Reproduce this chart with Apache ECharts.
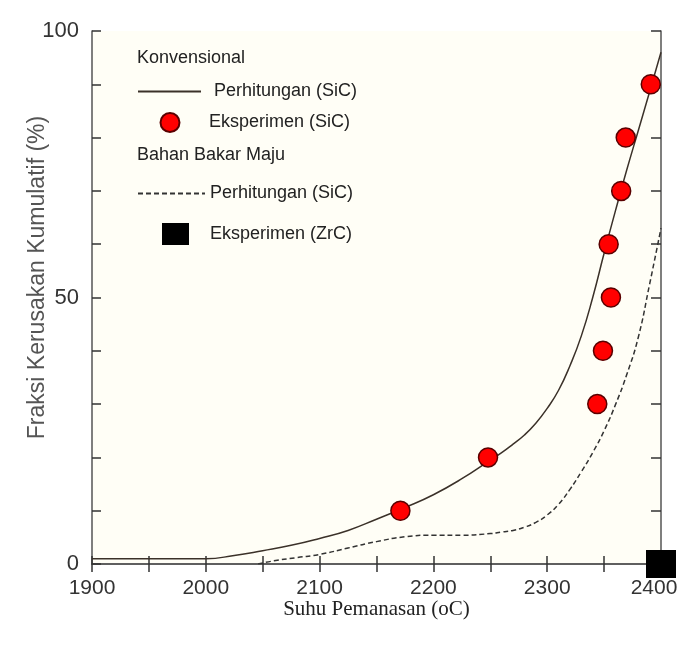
<!DOCTYPE html>
<html>
<head>
<meta charset="utf-8">
<script src="https://cdn.jsdelivr.net/npm/echarts@6/dist/echarts.min.js"></script>
<style>
html,body{margin:0;padding:0;background:#ffffff;}
#chart{width:681px;height:648px;}
</style>
</head>
<body>
<div id="chart"></div>
<script>
// ---- Data ----
// Konvensional: Perhitungan (SiC) — solid curve
const convCalcTemp = [1900, 1950, 2000, 2025, 2050, 2075, 2100, 2125, 2150, 2175, 2200, 2225, 2250, 2260, 2270, 2280, 2290, 2300, 2310, 2320, 2330, 2340, 2350, 2360, 2370, 2380, 2390, 2400];
const convCalcFrac = [1, 1, 1, 1.6, 2.5, 3.5, 4.8, 6.3, 8.4, 10.6, 13, 16, 19.5, 20.9, 22.5, 24.2, 26.4, 29.2, 32.6, 37.2, 42.8, 50, 58.3, 66.3, 74, 81.3, 88.6, 96];
// Konvensional: Eksperimen (SiC) — red circles
const expSiCTemp = [2171, 2248, 2344, 2349, 2356, 2354, 2365, 2369, 2391];
const expSiCFrac = [10, 20, 30, 40, 50, 60, 70, 80, 90];
// Bahan Bakar Maju: Perhitungan (SiC) — dashed curve
const advCalcTemp = [2046, 2060, 2080, 2100, 2125, 2150, 2175, 2200, 2225, 2250, 2260, 2270, 2280, 2290, 2300, 2310, 2320, 2330, 2340, 2350, 2360, 2370, 2380, 2390, 2400];
const advCalcFrac = [0, 0.6, 1.2, 1.8, 3, 4.2, 5.1, 5.4, 5.4, 5.7, 6, 6.3, 6.9, 7.8, 9.2, 11.2, 14, 17.3, 20.9, 25, 29.9, 35.6, 42.5, 52.5, 63];
// Bahan Bakar Maju: Eksperimen (ZrC) — black square
const expZrCTemp = [2400];
const expZrCFrac = [0];

// axis ticks / labels
const xMin = 1900, xMax = 2400, xTickStep = 50, xLabelStep = 100;
const yMin = 0, yMax = 100, yTickStep = 10, yLabelStep = 50;

// series / legend names
const nameConvCalc = 'Konvensional: Perhitungan (SiC)';
const nameExpSiC = 'Eksperimen (SiC)';
const nameAdvCalc = 'Bahan Bakar Maju: Perhitungan (SiC)';
const nameExpZrC = 'Eksperimen (ZrC)';
const legendLabels = {};
legendLabels[nameConvCalc] = 'Perhitungan (SiC)';
legendLabels[nameExpSiC] = 'Eksperimen (SiC)';
legendLabels[nameAdvCalc] = 'Perhitungan (SiC)';
legendLabels[nameExpZrC] = 'Eksperimen (ZrC)';

const zip = (a, b) => a.map((v, i) => [v, b[i]]);

const chart = echarts.init(document.getElementById('chart'), null, {renderer: 'canvas'});
const sans = 'Liberation Sans, Arial, sans-serif';
const legendText = {fontSize: 18, color: '#222', fontFamily: sans};

function legendAt(name, left, centerY, w, h, padLeft, extra) {
  return Object.assign({
    data: [name], left: left, top: centerY - Math.max(h, 21) / 2, padding: 0,
    itemWidth: w, itemHeight: h, selectedMode: false, orient: 'horizontal',
    formatter: n => legendLabels[n],
    textStyle: Object.assign({padding: [0, 0, 0, padLeft]}, legendText)
  }, extra || {});
}

const option = {
  backgroundColor: '#ffffff',
  animation: false,
  grid: {left: 92, right: 20, top: 31, bottom: 84, show: true, backgroundColor: '#fffef6', borderWidth: 0,
    outerBoundsMode: 'none', containLabel: false},
  legend: [
    legendAt(nameConvCalc, 137, 93, 63, 20, 8, {itemStyle: {opacity: 0}}),
    legendAt(nameExpSiC, 159.5, 122.5, 19, 19, 24.5),
    legendAt(nameAdvCalc, 137, 195, 67, 20, 0, {itemStyle: {opacity: 0}}),
    legendAt(nameExpZrC, 162, 234, 27, 22, 16)
  ],
  graphic: [
    {type: 'text', left: 137, top: 49, style: {text: 'Konvensional', fontSize: 18, fill: '#222', fontFamily: sans}},
    {type: 'text', left: 137, top: 146, style: {text: 'Bahan Bakar Maju', fontSize: 18, fill: '#222', fontFamily: sans}}
  ],
  xAxis: [{
    type: 'value', min: xMin, max: xMax, interval: xTickStep, position: 'bottom',
    name: 'Suhu Pemanasan (oC)', nameLocation: 'middle', nameGap: 35, nameMoveOverlap: false,
    nameTextStyle: {fontSize: 21, color: '#222', fontFamily: 'Liberation Serif, Times New Roman, serif'},
    axisLine: {show: true, lineStyle: {color: '#555', width: 1.5}},
    axisTick: {show: true, inside: true, length: 8, lineStyle: {color: '#333', width: 1.5}},
    axisLabel: {fontSize: 21, color: '#333', margin: 14, fontFamily: sans,
      formatter: v => (v % xLabelStep === 0 ? (v === xMax ? '{last|' + v + '}' : String(v)) : ''),
      rich: {last: {fontSize: 21, color: '#333', fontFamily: sans, padding: [0, 14, 0, 0]}}},
    splitLine: {show: false}
  }, {
    type: 'value', min: xMin, max: xMax, interval: xTickStep, position: 'top',
    axisLine: {show: true, lineStyle: {color: '#555', width: 1.5}},
    axisTick: {show: true, inside: true, length: 8, lineStyle: {color: '#333', width: 1.5}},
    axisLabel: {show: false}, splitLine: {show: false}
  }],
  yAxis: [{
    type: 'value', min: yMin, max: yMax, interval: yTickStep, position: 'left',
    name: 'Fraksi Kerusakan Kumulatif (%)', nameLocation: 'middle', nameGap: 43, nameRotate: 90, nameMoveOverlap: false,
    nameTextStyle: {fontSize: 23, color: '#555', fontFamily: sans, padding: [0, 0, 0, 40]},
    axisLine: {show: true, lineStyle: {color: '#555', width: 1.5}},
    axisTick: {show: true, inside: true, length: 9, lineStyle: {color: '#333', width: 1.5}},
    axisLabel: {fontSize: 22, color: '#333', margin: 13, fontFamily: sans,
      formatter: v => (v % yLabelStep === 0 ? String(v) : '')},
    splitLine: {show: false}
  }, {
    type: 'value', min: yMin, max: yMax, interval: yTickStep, position: 'right',
    axisLine: {show: true, lineStyle: {color: '#555', width: 1.5}},
    axisTick: {show: true, inside: true, length: 10, lineStyle: {color: '#333', width: 1.5}},
    axisLabel: {show: false}, splitLine: {show: false}
  }],
  series: [{
    name: nameConvCalc, type: 'line', data: zip(convCalcTemp, convCalcFrac),
    smooth: 0.5, symbol: 'none', lineStyle: {color: '#3b3129', width: 1.5}, itemStyle: {color: '#3b3129'}, z: 2
  }, {
    name: nameAdvCalc, type: 'line', data: zip(advCalcTemp, advCalcFrac),
    smooth: 0.5, symbol: 'none', lineStyle: {color: '#333', width: 1.5, type: [5, 3]}, itemStyle: {color: '#333'}, z: 2
  }, {
    name: nameExpSiC, type: 'scatter', data: zip(expSiCTemp, expSiCFrac),
    symbol: 'circle', symbolSize: 19,
    itemStyle: {color: '#ff0000', borderColor: '#5a0000', borderWidth: 1.5, opacity: 1}, z: 3
  }, {
    name: nameExpZrC, type: 'scatter', data: zip(expZrCTemp, expZrCFrac), clip: false,
    symbol: 'rect', symbolSize: [30, 28],
    itemStyle: {color: '#000000', opacity: 1}, z: 4
  }]
};
chart.setOption(option);
</script>
</body>
</html>
